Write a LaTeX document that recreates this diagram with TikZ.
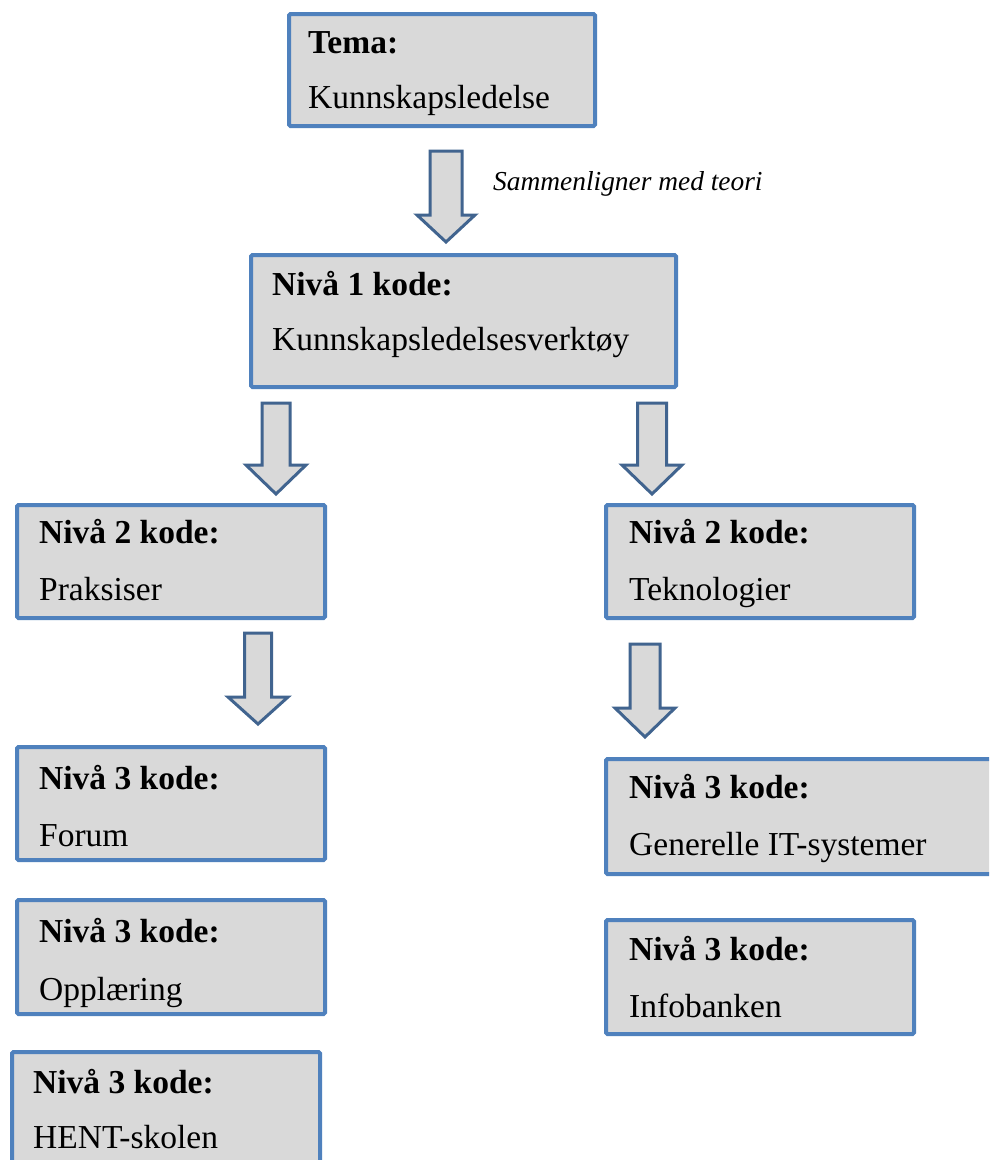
\documentclass[tikz,border=0pt]{standalone}
\usepackage{fontspec}
\setmainfont{Liberation Serif}
\definecolor{boxblue}{HTML}{4F81BD}
\definecolor{boxgray}{HTML}{D9D9D9}
\definecolor{arrblue}{HTML}{41648F}
\newcommand\blockarr[7]{% cx, shaft half, head half, top, base, tip, name
  \draw[blockarrow] (#1-#2,#4) -- (#1+#2,#4) -- (#1+#2,#5) -- (#1+#3,#5) -- (#1,#6) coordinate (#7) -- (#1-#3,#5) -- (#1-#2,#5) -- cycle;}
\begin{document}
\begin{tikzpicture}[x=1pt,y=-1pt,
  box/.style={draw=boxblue, fill=boxgray, line width=4pt, rounded corners=1.5pt, anchor=north west, inner sep=0pt, outer sep=0pt},
  headtxt/.style={anchor=base west, inner sep=0pt, font=\bfseries\fontsize{33.5}{40}\selectfont},
  bodytxt/.style={anchor=base west, inner sep=0pt, font=\fontsize{33.5}{40}\selectfont},
  blockarrow/.style={draw=arrblue, fill=boxgray, line width=3pt, line join=miter}]
\clip (0,0) rectangle (989,1160);
\fill[white] (0,0) rectangle (989,1160);
% boxes
\node[box, minimum width=306pt, minimum height=112pt] (tema) at (289,14) {};
\node[box, minimum width=425pt, minimum height=132pt] (n1) at (251,255) {};
\node[box, minimum width=308pt, minimum height=113pt] (n2l) at (17,505) {};
\node[box, minimum width=308pt, minimum height=113pt] (n2r) at (606,505) {};
\node[box, minimum width=308pt, minimum height=113pt] (forum) at (17,747) {};
\node[box, minimum width=308pt, minimum height=114pt] (oppl) at (17,900) {};
\node[box, minimum width=308pt, minimum height=130pt] (hent) at (12,1052) {};
\node[box, minimum width=400pt, minimum height=115pt] (gen) at (606,759) {};
\node[box, minimum width=308pt, minimum height=114pt] (info) at (606,920) {};
% texts
\node[headtxt] (tema-h) at (308,53) {Tema:};
\node[bodytxt] (tema-b) at (308,108) {Kunnskapsledelse};
\node[headtxt] (n1-h) at (272,295) {Nivå 1 kode:};
\node[bodytxt] (n1-b) at (272,350) {Kunnskapsledelsesverktøy};
\node[headtxt] (n2l-h) at (39,543) {Nivå 2 kode:};
\node[bodytxt] (n2l-b) at (39,600) {Praksiser};
\node[headtxt] (n2r-h) at (629,543) {Nivå 2 kode:};
\node[bodytxt] (n2r-b) at (629,600) {Teknologier};
\node[headtxt] (forum-h) at (39,789) {Nivå 3 kode:};
\node[bodytxt] (forum-b) at (39,846) {Forum};
\node[headtxt] (oppl-h) at (39,942) {Nivå 3 kode:};
\node[bodytxt] (oppl-b) at (39,1000) {Opplæring};
\node[headtxt] (hent-h) at (33,1093) {Nivå 3 kode:};
\node[bodytxt] (hent-b) at (33,1148) {HENT-skolen};
\node[headtxt] (gen-h) at (629,798) {Nivå 3 kode:};
\node[bodytxt] (gen-b) at (629,855) {Generelle IT-systemer};
\node[headtxt] (info-h) at (629,960) {Nivå 3 kode:};
\node[bodytxt] (info-b) at (629,1017) {Infobanken};
% label
\node[anchor=base west, inner sep=0pt, font=\itshape\fontsize{27.4}{32}\selectfont] (lbl) at (493,190) {Sammenligner med teori};
% block arrows
\blockarr{446}{16}{29}{151}{215}{242}{a1}
\blockarr{276}{14}{30}{403}{465}{494}{a2}
\blockarr{652}{14.5}{30}{403}{465}{494}{a3}
\blockarr{258}{13.5}{30}{633}{697}{724}{a4}
\blockarr{645}{15}{30}{644}{708}{737}{a5}
\end{tikzpicture}
\end{document}
